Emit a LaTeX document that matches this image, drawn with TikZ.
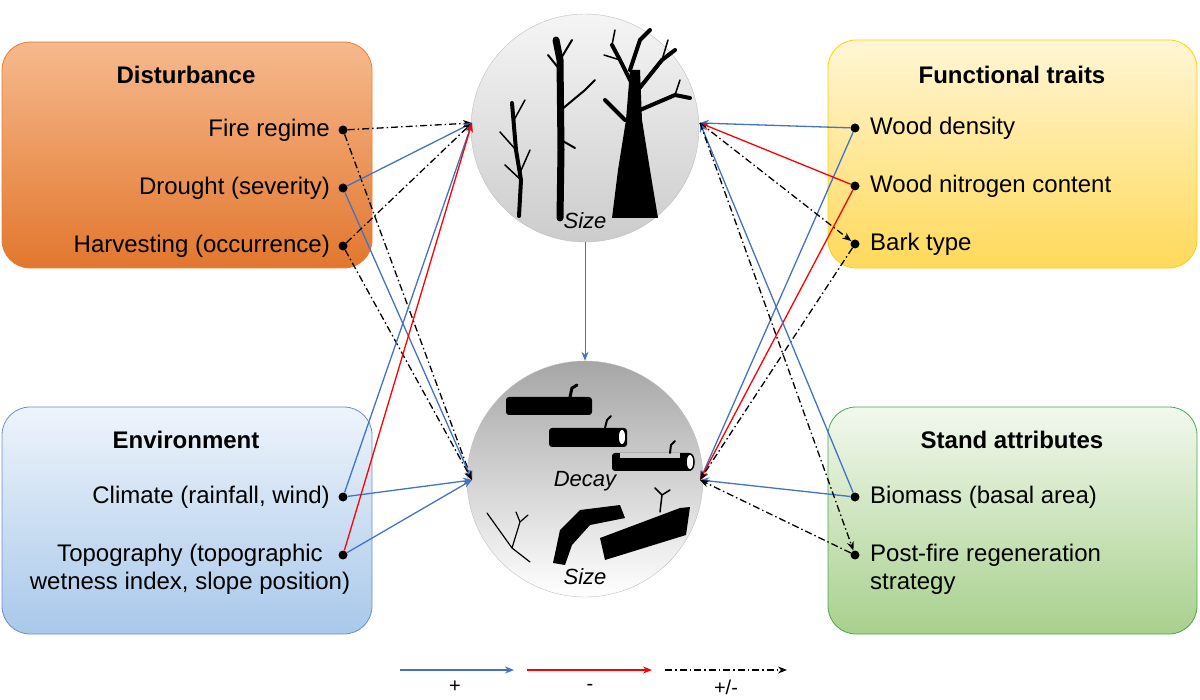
\documentclass[tikz,border=0pt]{standalone}
\usepackage{fontspec}
\setmainfont{Liberation Sans}
\usetikzlibrary{arrows.meta}
\definecolor{pblue}{HTML}{4472C4}
\definecolor{pred}{HTML}{FF0000}
\definecolor{orT}{HTML}{F6B98D}
\definecolor{orB}{HTML}{E2772E}
\definecolor{orD}{HTML}{ED7D31}
\definecolor{blT}{HTML}{EEF4FB}
\definecolor{blB}{HTML}{A9C8EA}
\definecolor{yeT}{HTML}{FFF6D5}
\definecolor{yeB}{HTML}{FFD95A}
\definecolor{grT}{HTML}{F2F8EE}
\definecolor{grB}{HTML}{A8D08D}
\begin{document}
\begin{tikzpicture}[x=1pt,y=-1pt,
  box/.style={rounded corners=28pt,line width=0.8pt},
  lbl/.style={font=\fontsize{24}{28}\selectfont,inner sep=0pt},
  ttl/.style={font=\fontsize{24}{28}\selectfont\bfseries,inner sep=0pt},
  dot/.style={circle,fill=black,inner sep=0pt,minimum size=9pt},
  tip/.style={-{Stealth[length=9pt,width=7pt]}},
  plus/.style={tip,draw=pblue,line width=1.3pt},
  neg/.style={tip,draw=pred,line width=1.3pt},
  amb/.style={tip,draw=black,line width=1.3pt,dash pattern=on 7pt off 3pt on 1.5pt off 3pt},
  trunk/.style={line width=#1,line cap=round,black}]
\useasboundingbox (0,0) rectangle (1200,700);
% boxes
\draw[box,draw=orD,top color=orT,bottom color=orB] (2,42) rectangle (372,268);
\draw[box,draw=pblue!80,top color=blT,bottom color=blB] (2,407) rectangle (372,634);
\draw[box,draw=yellow!70!orange,top color=yeT,bottom color=yeB] (828,40) rectangle (1197,268);
\draw[box,draw=green!50!black!70,top color=grT,bottom color=grB] (828,407) rectangle (1197,634);
% titles
\node[ttl] (tD) at (186,75) {Disturbance};
\node[ttl] (tE) at (186,440) {Environment};
\node[ttl] (tF) at (1012,75) {Functional traits};
\node[ttl] (tS) at (1012,440) {Stand attributes};
% left dots
\node[dot] (fire) at (343,130) {};
\node[dot] (drought) at (343,188) {};
\node[dot] (harv) at (343,246) {};
\node[dot] (clim) at (343,497) {};
\node[dot] (topo) at (343,555) {};
\node[lbl,anchor=east] (lfire) at (330,130) {Fire regime};
\node[lbl,anchor=east] (ldr) at (330,188) {Drought (severity)};
\node[lbl,anchor=east] (lha) at (330,246) {Harvesting (occurrence)};
\node[lbl,anchor=east] (lcl) at (330,497) {Climate (rainfall, wind)};
\node[lbl,align=center] (lto) at (190,569) {Topography (topographic\\wetness index, slope position)};
% right dots
\node[dot] (wd) at (855,128) {};
\node[dot] (wn) at (855,186) {};
\node[dot] (bark) at (855,244) {};
\node[dot] (bio) at (855,497) {};
\node[dot] (pf) at (855,555) {};
\node[lbl,anchor=west] (lwd) at (870,128) {Wood density};
\node[lbl,anchor=west] (lwn) at (870,186) {Wood nitrogen content};
\node[lbl,anchor=west] (lba) at (870,244) {Bark type};
\node[lbl,anchor=west] (lbi) at (870,497) {Biomass (basal area)};
\node[lbl,align=left,anchor=west] (lpf) at (870,569) {Post-fire regeneration\\strategy};
% circles
\node[circle,minimum size=228pt,draw=gray!50,top color=gray!8,bottom color=gray!40,inner sep=0pt] (top) at (585,128) {};
\node[circle,minimum size=236pt,draw=gray!50,top color=gray!70,bottom color=white,inner sep=0pt] (bot) at (585,479) {};
% trees (top)
\draw[trunk=4pt] (519,216) -- (521,180) -- (516,150) -- (512,103);
\draw[trunk=1.5pt] (516,150) -- (500,132) (514,120) -- (525,100) (519,175) -- (530,150) (521,180)--(505,165);
\draw[trunk=7pt] (560,218) -- (561,150) -- (560,60) -- (556,40);
\draw[trunk=2pt] (561,110) -- (585,90) (560,70) -- (548,55) (560,60)--(572,40) (561,140)--(575,148) (585,90)--(595,80);
\fill[black] (612,218) -- (618,170) -- (626,120) -- (630,70) -- (640,70) -- (642,120) -- (650,170) -- (658,218) -- cycle;
\draw[trunk=4pt] (635,90) -- (620,60) -- (612,45) (638,90) -- (662,60) -- (675,50) (640,110) -- (675,95) -- (690,98) (625,120)--(605,100) (630,70)--(640,40)--(650,30);
\draw[trunk=1.5pt] (662,60)--(668,40) (620,60)--(604,55) (675,95)--(680,80) (612,45)--(615,30);
\node[lbl,font=\fontsize{22}{26}\selectfont\itshape] (s1) at (585,221) {Size};
% logs (bottom)
\fill[black,rounded corners=3pt] (506,397) rectangle (592,415);
\draw[trunk=3pt] (570,397) -- (572,388) -- (577,385);
\fill[black,rounded corners=3pt] (549,428) rectangle (627,447);
\draw[trunk=2pt] (605,428) -- (607,420) -- (611,416);
\fill[white] (622,437) ellipse (4pt and 8pt);
\draw[black,line width=1.5pt] (622,437) ellipse (4pt and 8pt);
\fill[black,rounded corners=3pt] (612,453) rectangle (692,471);
\fill[white,opacity=0.8] (620,453) rectangle (680,458);
\fill[white] (690,462) ellipse (4pt and 8pt);
\draw[black,line width=1.5pt] (690,462) ellipse (4pt and 8pt);
\draw[trunk=2pt] (670,453) -- (671,445) -- (675,441);
\node[lbl,font=\fontsize{22}{26}\selectfont\itshape] (dec) at (585,481) {Decay};
\draw[trunk=1.2pt] (487,513) -- (512,548) -- (530,562) (512,548) -- (520,522) -- (516,512) (520,522)--(528,515);
\fill[black] (553,563) -- (560,530) -- (580,510) -- (620,505) -- (625,518) -- (590,525) -- (572,545) -- (565,565) -- cycle;
\fill[black] (600,538) -- (680,508) -- (690,507) -- (686,535) -- (605,560) -- cycle;
\draw[trunk=1.5pt] (660,512) -- (662,495) -- (655,488) (662,495) -- (670,490);
\node[lbl,font=\fontsize{22}{26}\selectfont\itshape] (s2) at (585,577) {Size};
% anchors
\coordinate (TL) at (472,123);
\coordinate (TR) at (700,123);
\coordinate (BL) at (472,480);
\coordinate (BR) at (700,480);
% left connectors
\draw[amb] (fire) -- (TL);
\draw[amb] (fire) -- (BL);
\draw[plus] (drought) -- (TL);
\draw[plus] (drought) -- (BL);
\draw[amb] (harv) -- (TL);
\draw[amb] (harv) -- (BL);
\draw[plus] (clim) -- (TL);
\draw[plus] (clim) -- (BL);
\draw[neg] (topo) -- (TL);
\draw[plus] (topo) -- (BL);
\draw[plus,line width=1pt] (top) -- (bot);
% right connectors
\draw[plus] (wd) -- (TR);
\draw[plus] (wd) -- (BR);
\draw[neg] (wn) -- (TR);
\draw[neg] (wn) -- (BR);
\draw[amb] (TR) -- (bark);
\draw[amb] (bark) -- (BR);
\draw[plus] (bio) -- (TR);
\draw[plus] (bio) -- (BR);
\draw[amb] (TR) -- (pf);
\draw[amb] (pf) -- (BR);
% legend
\coordinate (a1) at (400,670); \coordinate (a2) at (514,670);
\coordinate (b1) at (527,670); \coordinate (b2) at (652,670);
\coordinate (c1) at (665,670); \coordinate (c2) at (787,670);
\draw[plus,line width=1.2pt] (a1) -- (a2);
\draw[neg,line width=1.2pt] (b1) -- (b2);
\draw[amb,line width=1.2pt] (c1) -- (c2);
\node[lbl,font=\fontsize{20}{24}\selectfont] (lp) at (455,687) {+};
\node[lbl,font=\fontsize{20}{24}\selectfont] (lm) at (590,687) {-};
\node[lbl,font=\fontsize{20}{24}\selectfont] (la) at (726,687) {+/-};
\end{tikzpicture}
\end{document}
